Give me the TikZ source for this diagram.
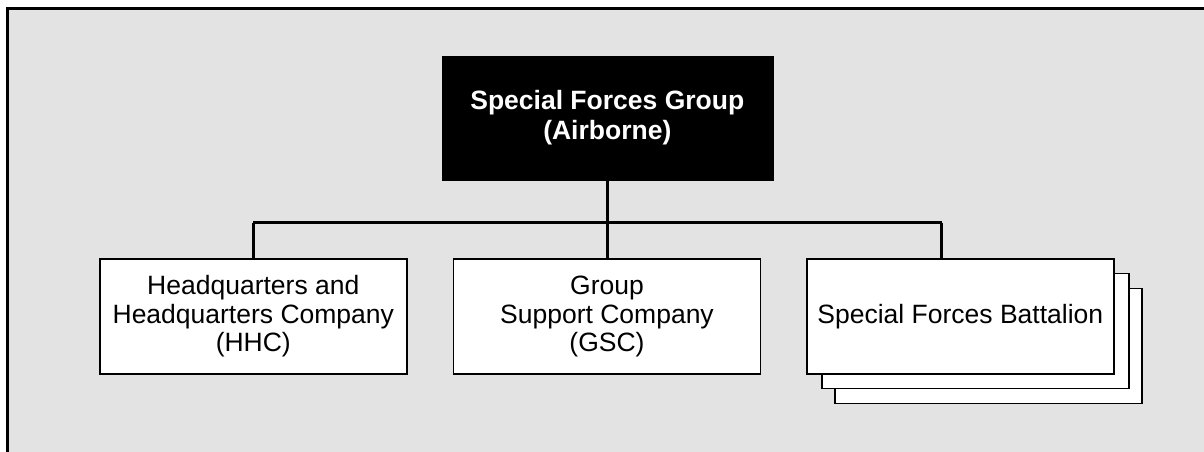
\documentclass[tikz,border=0pt]{standalone}
\usepackage{fontspec}
\setmainfont{Liberation Sans}
\definecolor{bggray}{HTML}{E3E3E3}
\begin{document}
\begin{tikzpicture}[x=1pt,y=-1pt,
  unit/.style={draw=black,line width=1.6pt,fill=white,inner sep=0pt,outer sep=0pt,
    minimum width=307pt,minimum height=115pt,align=center,
    font=\fontsize{26.5}{28.5}\selectfont},
  hq/.style={draw=black,fill=black,text=white,inner sep=0pt,outer sep=0pt,
    minimum width=331pt,minimum height=124pt,align=center,
    font=\fontsize{26.5}{30}\selectfont\bfseries},
  link/.style={draw=black,line width=3pt}]
\useasboundingbox (0,0) rectangle (1204,451);
\fill[bggray] (7.5,8) rectangle (1210,460);
\draw[line width=3pt] (7.5,460) -- (7.5,8) -- (1210,8);
% top box
\node[hq] (top) at (607.3,118) {Special Forces Group\\(Airborne)};
% lower boxes
\node[unit] (hhc) at (253.3,316.5) {Headquarters and\\Headquarters Company\\(HHC)};
\node[unit] (gsc) at (607,316.5) {Group\\Support Company\\(GSC)};
\node[unit] (sfb3) at (988.7,345.8) {};
\node[unit] (sfb2) at (975.5,330.8) {};
\node[unit] (sfb) at (960.3,316.2) {Special Forces Battalion};
% connectors
\coordinate (busL) at (253.3,222.7);
\coordinate (busR) at (941.7,222.7);
\draw[link] (top.south) -- (top.south |- busL);
\draw[link] (busL) -- (busR);
\draw[link] (busL) -- (hhc.north);
\draw[link] (top.south |- busL) -- (top.south |- gsc.north);
\draw[link] (busR) -- (busR |- sfb.north);
\end{tikzpicture}
\end{document}
